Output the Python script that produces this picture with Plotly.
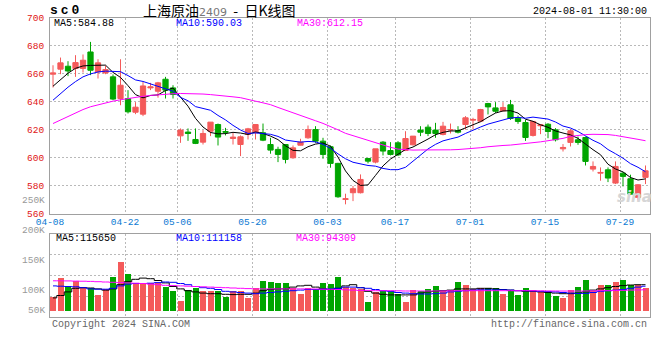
import plotly.graph_objects as go

# ---------------- data ----------------
DATES = [
    "04-08", "04-09", "04-10", "04-11", "04-12", "04-15", "04-16", "04-17", "04-18", "04-19",
    "04-22", "04-23", "04-24", "04-25", "04-26", "04-29", "04-30",
    "05-06", "05-07", "05-08", "05-09", "05-10", "05-13", "05-14", "05-15", "05-16", "05-17",
    "05-20", "05-21", "05-22", "05-23", "05-24", "05-27", "05-28", "05-29", "05-30", "05-31",
    "06-03", "06-04", "06-05", "06-06", "06-07", "06-11", "06-12", "06-13", "06-14",
    "06-17", "06-18", "06-19", "06-20", "06-21", "06-24", "06-25", "06-26", "06-27", "06-28",
    "07-01", "07-02", "07-03", "07-04", "07-05", "07-08", "07-09", "07-10", "07-11", "07-12",
    "07-15", "07-16", "07-17", "07-18", "07-19", "07-22", "07-23", "07-24", "07-25", "07-26",
    "07-29", "07-30", "07-31", "08-01",
]
TICK_DATES = ["04-08", "04-22", "05-06", "05-20", "06-03", "06-17", "07-01", "07-15", "07-29"]

OPEN = [
    659.8, 663.4, 665.5, 663.9, 663.9, 675.7, 661.4, 660.7, 657.9, 642.4,
    642.4, 632.6, 631.2, 650.0, 647.6, 656.2, 650.0, 615.7, 618.4, 613.1,
    611.2, 619.0, 623.8, 618.8, 613.8, 609.5, 616.7, 617.9, 617.9, 609.5,
    606.0, 609.5, 600.0, 609.0, 614.3, 620.2, 611.9, 607.9, 596.0, 570.2,
    575.0, 575.0, 599.5, 596.9, 611.2, 605.2, 610.7, 605.2, 609.3, 619.8,
    621.9, 619.8, 616.7, 619.8, 619.5, 623.8, 626.9, 626.2, 638.8, 635.7,
    633.6, 637.9, 628.3, 625.2, 616.0, 622.9, 624.0, 620.0, 606.4, 611.0,
    612.9, 614.5, 591.9, 589.0, 591.4, 581.9, 589.0, 585.0, 571.7, 586.0,
]
HIGH = [
    666.2, 671.7, 669.1, 673.4, 673.9, 682.9, 670.5, 666.0, 659.6, 670.5,
    648.4, 639.8, 654.3, 653.6, 654.3, 657.9, 651.9, 621.0, 621.0, 621.0,
    619.8, 625.5, 624.5, 621.4, 617.9, 616.0, 621.4, 623.8, 624.5, 614.3,
    607.9, 609.5, 608.8, 613.6, 623.1, 622.6, 614.3, 608.8, 596.4, 574.3,
    579.8, 588.1, 599.5, 606.4, 611.9, 611.2, 611.9, 619.0, 615.5, 622.6,
    623.8, 625.0, 625.7, 624.5, 622.6, 629.8, 628.6, 635.0, 639.3, 639.8,
    639.8, 641.4, 630.2, 627.1, 626.0, 624.0, 624.8, 621.2, 609.8, 620.5,
    615.2, 615.2, 597.4, 593.1, 593.1, 597.4, 589.8, 587.9, 581.2, 594.5,
]
LOW = [
    650.3, 659.8, 658.4, 657.9, 661.0, 659.1, 656.7, 659.8, 641.2, 637.6,
    631.7, 631.2, 629.8, 648.4, 643.0, 642.4, 642.4, 610.7, 612.1, 609.8,
    609.5, 615.5, 608.8, 616.0, 609.5, 601.2, 613.1, 613.1, 611.9, 602.9,
    596.9, 596.0, 599.3, 608.8, 613.6, 610.7, 599.3, 592.9, 571.4, 566.7,
    569.0, 574.5, 596.0, 596.0, 601.7, 601.7, 601.2, 604.8, 608.8, 615.5,
    615.5, 614.3, 616.0, 617.4, 617.4, 620.2, 620.2, 625.5, 631.0, 632.1,
    633.3, 627.1, 624.3, 612.1, 615.2, 616.9, 614.0, 611.7, 604.5, 608.1,
    609.3, 594.5, 590.2, 583.6, 582.6, 581.2, 579.5, 573.6, 569.3, 581.2,
]
CLOSE = [
    660.7, 667.9, 662.1, 668.1, 669.8, 662.6, 667.9, 663.1, 642.0, 651.9,
    632.9, 636.2, 651.4, 650.7, 653.6, 648.4, 645.3, 619.8, 617.4, 610.3,
    617.4, 625.5, 614.8, 618.3, 614.8, 615.0, 620.7, 623.8, 612.6, 605.5,
    602.4, 598.8, 607.1, 611.2, 620.2, 611.9, 602.4, 596.0, 572.1, 570.7,
    577.9, 584.5, 597.6, 606.4, 604.8, 602.4, 602.1, 613.8, 615.5, 618.3,
    617.4, 617.4, 622.6, 620.2, 618.3, 628.6, 627.4, 634.5, 636.4, 633.3,
    636.0, 628.1, 626.0, 614.5, 626.0, 623.6, 618.8, 612.9, 607.4, 619.3,
    611.0, 597.4, 593.8, 589.5, 585.5, 593.8, 586.7, 574.0, 580.7, 590.7,
]
MA5 = [
    651.2, 655.5, 660.5, 664.0, 665.7, 666.1, 666.1, 666.3, 661.1, 657.5,
    651.6, 645.2, 642.9, 644.6, 645.0, 648.1, 649.9, 643.6, 636.9, 628.2,
    622.0, 618.1, 617.1, 617.3, 618.2, 617.7, 616.7, 618.5, 617.4, 615.5,
    613.0, 608.6, 605.3, 605.0, 607.9, 609.8, 610.6, 608.3, 600.5, 590.6,
    583.8, 580.2, 580.6, 587.4, 594.2, 599.1, 602.7, 605.9, 607.7, 610.4,
    613.4, 616.5, 618.2, 619.2, 619.2, 621.4, 623.4, 625.8, 629.0, 632.0,
    633.5, 633.7, 632.0, 627.6, 626.1, 623.6, 621.8, 619.2, 617.7, 616.4,
    613.9, 609.6, 605.8, 602.2, 595.4, 592.0, 589.9, 585.9, 584.1, 584.9,
]
MA10 = [
    641.2, 646.0, 650.5, 654.5, 657.9, 660.0, 661.4, 662.0, 661.8, 661.6,
    658.8, 655.7, 654.6, 652.9, 651.2, 649.8, 647.6, 643.2, 640.8, 636.6,
    635.1, 634.0, 630.3, 627.1, 623.2, 619.9, 617.4, 617.8, 617.3, 616.8,
    615.3, 612.7, 611.9, 611.2, 611.7, 611.4, 609.6, 606.8, 602.8, 599.3,
    596.8, 595.4, 594.5, 594.0, 592.4, 591.5, 591.5, 593.2, 597.6, 602.3,
    606.3, 609.6, 612.1, 613.5, 614.8, 617.4, 620.0, 622.0, 624.1, 625.6,
    627.5, 628.5, 628.9, 628.3, 629.1, 628.6, 627.7, 625.6, 622.7, 621.3,
    618.8, 615.7, 612.5, 610.0, 605.9, 602.9, 599.7, 595.8, 593.2, 590.0,
]
MA30 = [
    624.5, 627.0, 630.0, 632.5, 634.5, 636.5, 638.0, 639.5, 640.5, 641.5,
    642.5, 643.3, 644.0, 644.6, 645.1, 645.5, 645.8, 646.0, 646.0, 645.8,
    645.6, 645.2, 644.8, 644.3, 643.6, 643.0, 641.5, 640.5, 639.3, 638.0,
    636.0, 634.0, 632.0, 630.2, 628.3, 626.5, 624.6, 622.5, 620.0, 617.5,
    615.8, 614.2, 612.6, 610.8, 609.1, 607.5, 606.2, 605.8, 605.5, 605.6,
    605.5, 605.5, 605.5, 605.7, 605.9, 606.2, 606.6, 607.2, 607.9, 608.5,
    608.8, 609.1, 609.6, 610.2, 610.8, 611.4, 612.2, 613.0, 613.9, 615.3,
    616.0, 616.6, 616.8, 616.8, 616.6, 616.0, 615.2, 614.2, 613.2, 612.2,
]
VOLUME = [
    89500, 121200, 107300, 116700, 105600, 104500, 93300, 102800, 122800, 147800,
    127800, 112800, 111700, 112800, 112800, 106200, 100000, 83300, 101700, 104500,
    100000, 100000, 98900, 89500, 98900, 98900, 88300, 104500, 116700, 114500,
    112800, 112800, 104500, 94500, 104500, 102800, 112800, 111200, 122800, 105600,
    104500, 102800, 81200, 97800, 100000, 98900, 94500, 81200, 101700, 98900,
    102800, 107800, 98900, 101700, 114500, 109500, 103400, 104500, 104500, 104500,
    94500, 101700, 92800, 104500, 101200, 98900, 97800, 90600, 87800, 101200,
    105600, 117800, 98900, 109000, 109000, 114500, 117300, 109000, 109000, 104500,
]
VOL_MA5 = [
    88000, 92000, 98000, 104000, 105000, 104500, 103000, 101000, 103000, 110000,
    115000, 119000, 121000, 120000, 117000, 113000, 107000, 103000, 100000, 98000,
    96000, 95000, 95000, 94000, 93500, 94000, 94000, 96000, 100000, 102000,
    103000, 103000, 106000, 108000, 109000, 106000, 103000, 102000, 104000, 108000,
    110000, 105000, 99000, 96000, 94000, 93000, 93000, 93000, 93000, 96000,
    98000, 99000, 100000, 101000, 103000, 103000, 103000, 104000, 104000, 103000,
    102000, 101000, 100000, 99000, 99000, 98000, 97000, 96000, 95000, 95000,
    96000, 98000, 101000, 103000, 105000, 107000, 108500, 109500, 110000, 110000,
]
VOL_MA10 = [
    108000, 107500, 107000, 106500, 105000, 103000, 102500, 102500, 104000, 108000,
    111000, 112000, 112000, 112500, 113500, 114500, 114000, 112000, 110000, 107000,
    105000, 104000, 102000, 99000, 98000, 97000, 96000, 95000, 96000, 97000,
    98000, 99000, 100000, 101000, 102000, 102000, 102500, 103000, 104000, 106000,
    106000, 105000, 104000, 102000, 100000, 99000, 97000, 96000, 95000, 94500,
    94500, 95000, 96000, 98000, 99000, 100000, 101000, 101500, 101500, 101500,
    101500, 101000, 100000, 100000, 99500, 99000, 98500, 98000, 97000, 96000,
    95500, 95500, 97000, 99000, 100000, 101000, 102000, 104000, 106000, 107500,
]
VOL_MA30 = [
    116500, 116500, 116300, 116000, 115800, 115500, 115000, 114500, 114000, 113500,
    113000, 112500, 112000, 111000, 110000, 109000, 108500, 108000, 107500, 107000,
    106500, 106000, 105500, 105000, 104500, 104000, 103500, 103000, 103000, 103000,
    103000, 103000, 103000, 103000, 103000, 102800, 102500, 102300, 102000, 101500,
    101000, 100500, 100500, 100000, 100000, 100000, 99800, 99500, 99500, 99500,
    99500, 99500, 99500, 99800, 100000, 100000, 100000, 100000, 100000, 100000,
    100000, 100000, 100000, 100000, 100000, 99800, 99600, 99500, 99400, 99400,
    99400, 99500, 99700, 100000, 100000, 100300, 100600, 101000, 101300, 101500,
]
PRICE_TICKS = [560, 580, 600, 620, 640, 660, 680, 700]
VOL_LABEL_VALUES = [250000, 200000, 150000, 100000, 50000]
VOL_LABEL_TEXT = ["250K", "200K", "150K", "100K", "50K"]

# ---------------- geometry & style ----------------
W, H = 660, 360
ML, MR, MT, MB = 50, 10, 18, 43
PW, PH = W - ML - MR, H - MT - MB

def py(pix):
    return (H - MB - pix) / PH

def px(pix):
    return (pix - ML) / PW

RED = "#f45a5a"
GREEN = "#00a500"
GRID = "#b9b9b9"
FRAME = "#a0a0a0"
MONO = "Liberation Mono, DejaVu Sans Mono, monospace"

PRICE_DOMAIN = [py(213.7), 1.0]
VOL_DOMAIN = [0.0, py(234)]
VOL_RANGE = [56170, 194500]
VOL_BASE = 66700

n = len(DATES)
X = list(range(n))
XR = [-0.4, n - 0.4]
tickvals = [DATES.index(d) - 0.4 for d in TICK_DATES]

fig = go.Figure()
fig.add_trace(go.Candlestick(
    x=X, open=OPEN, high=HIGH, low=LOW, close=CLOSE,
    increasing=dict(line=dict(color=RED, width=1), fillcolor=RED),
    decreasing=dict(line=dict(color=GREEN, width=1), fillcolor=GREEN),
    whiskerwidth=0, xaxis="x", yaxis="y", hoverinfo="skip", showlegend=False))
for vals, col in [(MA5, "#000000"), (MA10, "#0000ff"), (MA30, "#ff00ff")]:
    fig.add_trace(go.Scatter(x=X, y=vals, mode="lines", line=dict(color=col, width=1),
                             xaxis="x", yaxis="y", hoverinfo="skip", showlegend=False))

vcolors = [RED if c >= o else GREEN for o, c in zip(OPEN, CLOSE)]
fig.add_trace(go.Bar(x=X, y=[v - VOL_BASE for v in VOLUME], base=VOL_BASE, width=0.8,
                     marker=dict(color=vcolors, line=dict(width=0)),
                     xaxis="x2", yaxis="y2", hoverinfo="skip", showlegend=False))
for vals, col in [(VOL_MA5, "#000000"), (VOL_MA10, "#0000ff"), (VOL_MA30, "#ff00ff")]:
    fig.add_trace(go.Scatter(x=X, y=vals, mode="lines", line=dict(color=col, width=1, shape="hvh"),
                             xaxis="x2", yaxis="y2", hoverinfo="skip", showlegend=False))

common_x = dict(range=XR, tickvals=tickvals, showgrid=True, gridcolor=GRID, griddash="2px,2px",
                gridwidth=1, showline=True, linecolor=FRAME, linewidth=1, mirror=True,
                zeroline=False, ticks="", rangeslider=dict(visible=False))
vr = VOL_RANGE
fig.update_layout(
    width=W, height=H, margin=dict(l=ML, r=MR, t=MT, b=MB),
    paper_bgcolor="white", plot_bgcolor="white", showlegend=False,
    boxgap=0.3, boxgroupgap=0, bargap=0,
    xaxis=dict(common_x, anchor="y", ticktext=TICK_DATES,
               tickfont=dict(family=MONO, size=9.5, color="#0a78d2"), ticklabelstandoff=-1),
    yaxis=dict(domain=PRICE_DOMAIN, range=[PRICE_TICKS[0], PRICE_TICKS[-1]], tickvals=PRICE_TICKS,
               showgrid=True, gridcolor=GRID, griddash="2px,2px", showline=True, linecolor=FRAME,
               mirror=True, zeroline=False, ticks="", ticklabelstandoff=3,
               tickfont=dict(family=MONO, size=9.5, color="#e01414")),
    xaxis2=dict(common_x, anchor="y2", showticklabels=False),
    yaxis2=dict(domain=VOL_DOMAIN, range=vr,
                tickvals=[vr[0] + k * (vr[1] - vr[0]) / 4 for k in range(1, 4)],
                showticklabels=False, showgrid=True, gridcolor=GRID, griddash="2px,2px",
                showline=True, linecolor=FRAME, mirror=True, zeroline=False, ticks=""),
)

def vol_paper(v):
    d0, d1 = VOL_DOMAIN
    return d0 + (v - vr[0]) / (vr[1] - vr[0]) * (d1 - d0)

ann = []
def text(x, y, s, color="#000", size=10, family=MONO, xanchor="left"):
    ann.append(dict(x=x, y=y, xref="paper", yref="paper", text=s, showarrow=False,
                    xanchor=xanchor, yanchor="middle", font=dict(family=family, size=size, color=color)))

# header
text(px(48), py(10.5), '<b><span style="letter-spacing:3px">sc0</span></b>', size=13)
text(px(141), py(10.5), '上海原油<span style="font-family:DejaVu Sans;font-size:11px;color:#777777">2409</span>  -  日K线图',
     size=14, family="Noto Sans CJK SC")
text(px(649), py(11), "2024-08-01 11:30:00", xanchor="right")
# price legend
text(px(52), py(23.7), "MA5:584.88", color="#000000")
text(px(174), py(23.7), "MA10:590.03", color="#0000ff")
text(px(295), py(23.7), "MA30:612.15", color="#ff00ff")
# volume legend
text(px(54), py(238), "MA5:115650", color="#000000")
text(px(174), py(238), "MA10:111158", color="#0000ff")
text(px(294), py(238), "MA30:94309", color="#ff00ff")
# volume labels
for v, s in zip(VOL_LABEL_VALUES, VOL_LABEL_TEXT):
    yv = max(vol_paper(v), vol_paper(VOL_BASE))
    text(px(47), yv, s, color="#999999", size=9.5, xanchor="right")
# footer
text(px(50), py(324), "Copyright 2024 SINA.COM", color="#666666")
text(px(649), py(324), "http://finance.sina.com.cn", color="#666666", xanchor="right")
# watermark
text(px(634), py(197), "<b><i>sina</i></b>", color="#d6d6d6", size=15, family="DejaVu Sans", xanchor="center")

fig.update_layout(annotations=ann)
fig.write_html("out.html", config={"displayModeBar": False},
               post_script="document.body.style.margin='0';document.body.style.overflow='hidden';")
